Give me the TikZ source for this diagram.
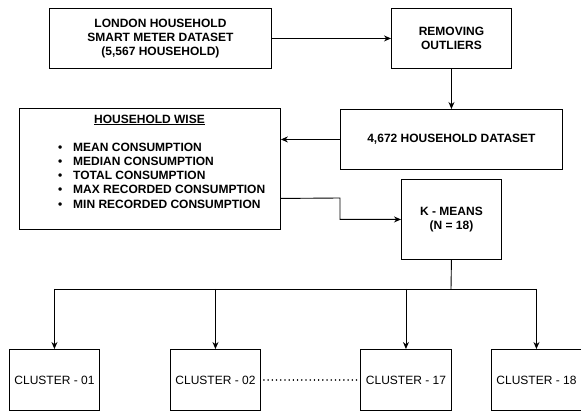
\documentclass[tikz,border=0pt]{standalone}
\usepackage{fontspec}
\setmainfont{Liberation Sans}
\usetikzlibrary{arrows.meta}
\begin{document}
\begin{tikzpicture}[x=1pt,y=-1pt,
  box/.style={draw, line width=0.9pt, anchor=north west, inner sep=0pt},
  btxt/.style={font=\fontsize{12}{14}\selectfont\bfseries, align=center, inner sep=0pt},
  rtxt/.style={font=\fontsize{12}{14}\selectfont, inner sep=0pt},
  conn/.style={line width=0.9pt},
  arr/.style={conn, -{Stealth[length=7pt,width=6pt]}}]
\useasboundingbox (0,0) rectangle (581,411);
% boxes
\node[box, minimum width=222pt, minimum height=60pt] (b1) at (49,8) {};
\node[btxt] at (b1.center) {LONDON HOUSEHOLD\\SMART METER DATASET\\(5,567 HOUSEHOLD)};
\node[box, minimum width=120pt, minimum height=60pt] (b2) at (391,8) {};
\node[btxt] at (b2.center) {REMOVING\\OUTLIERS};
\node[box, minimum width=222pt, minimum height=60pt] (b3) at (340,109) {};
\node[btxt] at (b3.center) {4,672 HOUSEHOLD DATASET};
\node[box, minimum width=261pt, minimum height=121pt] (hw) at (19,108) {};
\node[btxt] (hwtitle) at (149.5,120) {\underline{HOUSEHOLD WISE}};
\node[btxt, align=left, anchor=west, font=\fontsize{12}{14.3}\selectfont\bfseries] (hwlist) at (58,175.5)
  {\makebox[15pt][l]{\textbullet}MEAN CONSUMPTION\\
   \makebox[15pt][l]{\textbullet}MEDIAN CONSUMPTION\\
   \makebox[15pt][l]{\textbullet}TOTAL CONSUMPTION\\
   \makebox[15pt][l]{\textbullet}MAX RECORDED CONSUMPTION\\
   \makebox[15pt][l]{\textbullet}MIN RECORDED CONSUMPTION};
\node[box, minimum width=100pt, minimum height=80pt] (km) at (401,179) {};
\node[btxt] at (km.center) {K - MEANS\\(N = 18)};
\node[box, minimum width=90pt, minimum height=61pt, rtxt] (c01) at (9,349) {CLUSTER - 01};
\node[box, minimum width=90pt, minimum height=61pt, rtxt] (c02) at (170,349) {CLUSTER - 02};
\node[box, minimum width=91pt, minimum height=61pt, rtxt] (c17) at (360,349) {CLUSTER - 17};
\node[box, minimum width=90pt, minimum height=61pt, rtxt] (c18) at (491,349) {CLUSTER - 18};
% connectors
\draw[arr] (b1.east) -- (b2.west);
\draw[arr] (b2.south) -- (b3.north);
\draw[arr] (b3.west) -- (b3.west -| hw.east);
\coordinate (hwout) at ([yshift=-29.5pt]hw.east);
\coordinate (bend) at (340,198);
\draw[arr] (hwout) -- (bend) |- (km.west);
\coordinate (split) at (451,289);
\draw[conn] (km.south) -- (split);
\draw[conn] (c01.north |- split) -- (c18.north |- split);
\draw[arr] (c01.north |- split) -- (c01.north);
\draw[arr] (c02.north |- split) -- (c02.north);
\draw[arr] (c17.north |- split) -- (c17.north);
\draw[arr] (c18.north |- split) -- (c18.north);
\draw[line width=1.6pt, dash pattern=on 0.01pt off 4.2pt, line cap=round] ([xshift=3pt]c02.east) -- ([xshift=-3pt]c17.west);
\end{tikzpicture}
\end{document}
